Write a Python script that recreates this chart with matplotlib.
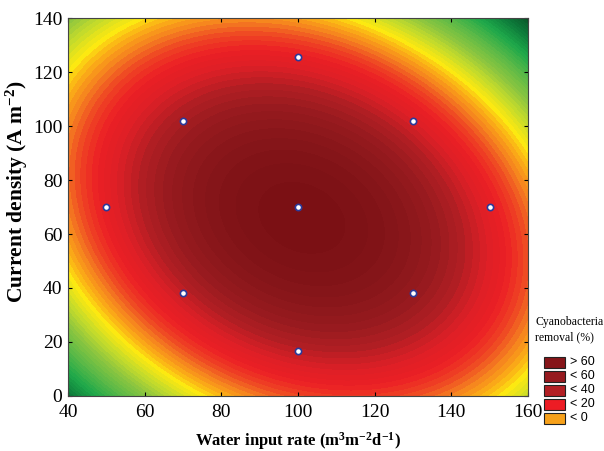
import numpy as np
import matplotlib
matplotlib.use("Agg")
import matplotlib.pyplot as plt
from matplotlib.colors import LinearSegmentedColormap
from matplotlib.patches import Rectangle

plt.rcParams["mathtext.fontset"] = "custom"
plt.rcParams["mathtext.rm"] = "Liberation Serif:bold"
plt.rcParams["mathtext.it"] = "Liberation Serif:bold"
plt.rcParams["mathtext.bf"] = "Liberation Serif:bold"

# design points (central composite design)
design_x = [100, 50, 150, 100, 100, 70, 70, 130, 130]
design_y = [70, 70, 70, 16.5, 125.5, 38, 102, 38, 102]

# fitted quadratic surface in coded units
b0 = 75.0
x_c, y_c = 101.0, 66.0
a_uu, a_ww, a_uw = 22.6, 16.6, 9.0

# colour anchors: value -> colour
anchor_vals = [-160, -135, -112, -90, -70, -53, -38, -28.5, -15, -6, 7.5, 21, 34.5, 48, 61.5, 75]
anchor_cols = ["#085026", "#0d7a3a", "#1ea84a", "#5bb947", "#8dc63f", "#c8dc2a", "#fde910",
               "#fbb116", "#f47b20", "#ef4a23", "#ec1f25", "#dc1f26", "#b01e23",
               "#951a1e", "#861519", "#7a1014"]

legend_labels = ["> 60", "< 60", "< 40", "< 20", "< 0"]
legend_colors = ["#861519", "#961a1f", "#b31f24", "#ed1c24", "#f7a11a"]

serif = ["Liberation Serif", "DejaVu Serif"]

xg = np.linspace(40, 160, 400)
yg = np.linspace(0, 140, 400)
X, Y = np.meshgrid(xg, yg)
U = (X - x_c) / 30
W = (Y - y_c) / 30
Z = b0 - a_uu * U**2 - a_ww * W**2 - a_uw * U * W

vmin, vmax = anchor_vals[0], anchor_vals[-1]
pos = [(v - vmin) / (vmax - vmin) for v in anchor_vals]
cmap = LinearSegmentedColormap.from_list("cyano", list(zip(pos, anchor_cols)))

fig = plt.figure(figsize=(6.04, 4.51), dpi=100)
ax = fig.add_axes([0.1126, 0.122, 0.7616, 0.838])

levels = np.arange(-200, 80, 4)
ax.contourf(X, Y, Z, levels=levels, cmap=cmap, vmin=vmin, vmax=vmax, extend="both")
ax.plot(design_x, design_y, "o", ms=4.5, mfc="white", mec="#2b3a9a", mew=1.2, ls="none")

ax.set_xlim(40, 160)
ax.set_ylim(0, 140)
ax.set_xticks(np.arange(40, 161, 20))
ax.set_yticks(np.arange(0, 141, 20))
ax.tick_params(direction="in", length=3, width=0.8, top=True, right=True,
               labelsize=14)
ax.tick_params(axis="x", pad=6)
ax.tick_params(axis="y", pad=4)
for lab in ax.get_xticklabels() + ax.get_yticklabels():
    lab.set_family(serif)
for sp in ax.spines.values():
    sp.set_color("#444444")
    sp.set_linewidth(0.8)

ax.set_xlabel("Water input rate (m$^3$m$^{\\mathrm{-}2}$d$^{\\mathrm{-}1}$)", fontsize=12,
              fontweight="bold", family=serif, labelpad=6)
ax.set_ylabel("Current density (A m$^{\\mathrm{-}2}$)", fontsize=15.5, fontweight="bold",
              family=serif)
ax.yaxis.set_label_coords(-0.083, 0.54)

# legend drawn in figure pixel coordinates
W_px, H_px = 604, 451
fig.text(535 / W_px, 1 - 330 / H_px, "Cyanobacteria\nremoval (%)", family=serif,
         fontsize=8.5, va="center", ha="left", linespacing=1.35)
for i, (lab, col) in enumerate(zip(legend_labels, legend_colors)):
    yc = 362 + 14 * i
    fig.add_artist(Rectangle((544 / W_px, 1 - (yc + 5.5) / H_px), 21 / W_px, 11 / H_px,
                             transform=fig.transFigure, facecolor=col,
                             edgecolor="#222222", lw=0.8))
    fig.text(570 / W_px, 1 - yc / H_px, lab, fontsize=9, va="center", ha="left",
             family=["Liberation Sans", "DejaVu Sans"])

fig.savefig("out.png", dpi=100)
